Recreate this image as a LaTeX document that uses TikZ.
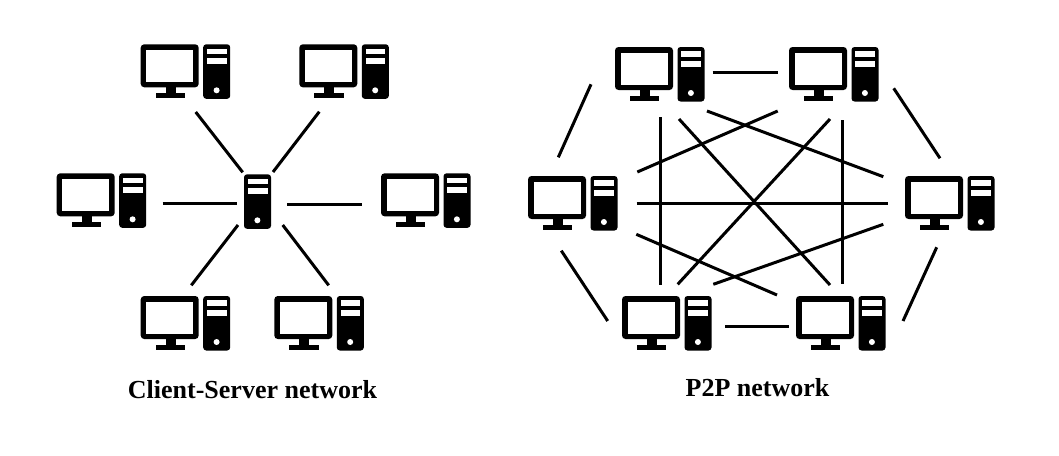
\documentclass[tikz,border=0pt]{standalone}
\usepackage{fontspec}
\setmainfont{Liberation Serif}
\tikzset{
  x=1pt, y=-1pt,
  link/.style={line width=3pt, draw=black},
  pcbox/.style={anchor=north west, inner sep=0pt, outer sep=0pt, minimum width=89.3pt, minimum height=54pt},
  srvbox/.style={anchor=north west, inner sep=0pt, outer sep=0pt, minimum width=27pt, minimum height=54.7pt},
  caption/.style={font=\bfseries\fontsize{26}{30}\selectfont, inner sep=0pt, text=black},
  towerpic/.pic={
    \fill[black, rounded corners=3pt] (0,0) rectangle (27,54.5);
    \fill[white] (3.7,4.3) rectangle (23.5,10);
    \fill[white] (3.7,14) rectangle (23.5,20);
    \fill[white] (13.4,46) circle (3pt);
  },
  pcpic/.pic={
    \fill[black, rounded corners=3.5pt] (0,0) rectangle (58,43);
    \fill[white] (5.5,5.5) rectangle (52.5,37.5);
    \fill[black] (25,43) rectangle (35,49.5);
    \fill[black] (15,49) rectangle (44.3,54);
    \path (62.5,0) pic {towerpic};
  }
}
\newcommand{\pcat}[3]{\node[pcbox] (#1) at (#2,#3) {}; \path (#2,#3) pic {pcpic};}
\begin{document}
\begin{tikzpicture}
\useasboundingbox (0,0) rectangle (1059,455);
\fill[white] (0,0) rectangle (1059,455);
% client-server
\pcat{G}{140.7}{44.3}
\pcat{H}{299.3}{44.3}
\pcat{I}{56.7}{173.3}
\pcat{J}{381}{173.3}
\pcat{K}{140.7}{296}
\pcat{L}{274.3}{296}
\node[srvbox] (S) at (244,174.3) {};
\path (244,174.3) pic {towerpic};
\draw[link] ([shift={(55,67.7)}]G.north west) -- ([shift={(-1.3,-2)}]S.north west);
\draw[link] ([shift={(20,67.4)}]H.north west) -- ([shift={(29,-2.3)}]S.north west);
\draw[link] ([shift={(106,30)}]I.north west) -- ([shift={(-7.3,29)}]S.north west);
\draw[link] ([shift={(-19.3,30.7)}]J.north west) -- ([shift={(43,29.7)}]S.north west);
\draw[link] ([shift={(50.6,-10.7)}]K.north west) -- ([shift={(-6,50.7)}]S.north west);
\draw[link] ([shift={(54.4,-10.7)}]L.north west) -- ([shift={(38.7,50.7)}]S.north west);
% p2p
\pcat{A}{615}{47}
\pcat{B}{789}{47}
\pcat{C}{528}{176}
\pcat{D}{905}{176}
\pcat{E}{622}{296}
\pcat{F}{796}{296}
\draw[link] ([shift={(97.7,25)}]A.north west) -- ([shift={(-11.3,25)}]B.north west);
\draw[link] ([shift={(104.7,41.3)}]B.north west) -- ([shift={(35,-17.7)}]D.north west);
\draw[link] ([shift={(-24,37.3)}]A.north west) -- ([shift={(30.3,-18.7)}]C.north west);
\draw[link] ([shift={(33.3,74.7)}]C.north west) -- ([shift={(-14.3,25)}]E.north west);
\draw[link] ([shift={(31.7,71.3)}]D.north west) -- ([shift={(107,25)}]F.north west);
\draw[link] ([shift={(103,30.7)}]E.north west) -- ([shift={(-6.7,30.7)}]F.north west);
\draw[link] ([shift={(45,70.3)}]A.north west) -- ([shift={(38,-11)}]E.north west);
\draw[link] ([shift={(53.7,73)}]B.north west) -- ([shift={(46.7,-11.7)}]F.north west);
\draw[link] ([shift={(108.7,27)}]C.north west) -- ([shift={(-17.3,27)}]D.north west);
\draw[link] ([shift={(64,72)}]A.north west) -- ([shift={(34,-11)}]F.north west);
\draw[link] ([shift={(41,72)}]B.north west) -- ([shift={(55.7,-11.7)}]E.north west);
\draw[link] ([shift={(109.3,-4)}]C.north west) -- ([shift={(-11.3,64)}]B.north west);
\draw[link] ([shift={(92,64)}]A.north west) -- ([shift={(-21.7,0.7)}]D.north west);
\draw[link] ([shift={(108.3,58.3)}]C.north west) -- ([shift={(-19,-1)}]F.north west);
\draw[link] ([shift={(91.3,-11.7)}]E.north west) -- ([shift={(-21.7,48.3)}]D.north west);
% captions
\node[caption] (capcs) at (252.5,390) {Client-Server network};
\node[caption] (capp) at (757.5,387.5) {P2P network};
\end{tikzpicture}
\end{document}
